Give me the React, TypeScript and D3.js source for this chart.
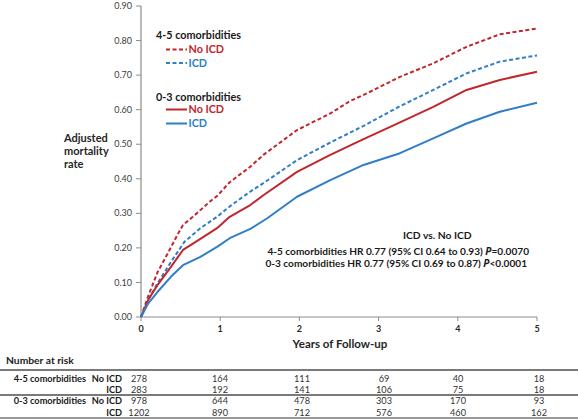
import React from "react";
import * as d3 from "d3";

const yTicks = [0, 0.1, 0.2, 0.3, 0.4, 0.5, 0.6, 0.7, 0.8, 0.9];
const xTicks = [0, 1, 2, 3, 4, 5];

// [years, adjusted mortality]
const noIcd45: [number, number][] = [
  [0, 0], [0.09, 0.06], [0.21, 0.13], [0.34, 0.185], [0.47, 0.242], [0.53, 0.266],
  [0.68, 0.295], [0.87, 0.334], [0.96, 0.35], [1.12, 0.39], [1.38, 0.435], [1.55, 0.47],
  [1.97, 0.541], [2.39, 0.589], [2.64, 0.625], [2.85, 0.647], [3.27, 0.695], [3.69, 0.734],
  [4.11, 0.782], [4.53, 0.818], [5.0, 0.835],
];
const icd45: [number, number][] = [
  [0, 0], [0.09, 0.049], [0.21, 0.098], [0.38, 0.16], [0.55, 0.218], [0.75, 0.257],
  [0.96, 0.29], [1.12, 0.32], [1.38, 0.363], [1.55, 0.388], [1.97, 0.454], [2.39, 0.505],
  [2.81, 0.553], [3.27, 0.61], [3.69, 0.657], [4.11, 0.705], [4.53, 0.739], [5.0, 0.757],
];
const noIcd03: [number, number][] = [
  [0, 0], [0.09, 0.049], [0.21, 0.093], [0.38, 0.146], [0.53, 0.194], [0.75, 0.226],
  [0.96, 0.257], [1.12, 0.29], [1.38, 0.324], [1.55, 0.353], [1.97, 0.42], [2.39, 0.469],
  [2.81, 0.515], [3.27, 0.563], [3.69, 0.608], [4.11, 0.657], [4.53, 0.686], [5.0, 0.71],
];
const icd03: [number, number][] = [
  [0, 0], [0.09, 0.039], [0.21, 0.073], [0.38, 0.117], [0.53, 0.15], [0.75, 0.174],
  [0.96, 0.203], [1.12, 0.228], [1.38, 0.255], [1.59, 0.285], [1.97, 0.348], [2.39, 0.396],
  [2.81, 0.44], [3.27, 0.474], [3.69, 0.517], [4.11, 0.56], [4.53, 0.594], [5.0, 0.62],
];

const riskGroups = ["4-5 comorbidities", "0-3 comorbidities"];
const riskArms = ["No ICD", "ICD"];
const risk45NoIcd = [278, 164, 111, 69, 40, 18];
const risk45Icd = [283, 192, 141, 106, 75, 18];
const risk03NoIcd = [978, 644, 478, 303, 170, 93];
const risk03Icd = [1202, 890, 712, 576, 460, 162];

const RED = "#C0272D";
const BLUE = "#2F7EC7";
const FONT = "Lato, 'Open Sans', sans-serif";

export default function App() {
  const W = 578, H = 419;
  const x = d3.scaleLinear().domain([0, 5]).range([141, 537]);
  const y = d3.scaleLinear().domain([0, 0.9]).range([317, 6]);
  const line = d3.line<[number, number]>().x((d) => x(d[0])).y((d) => y(d[1]));

  const series = [
    { data: noIcd45, color: RED, dash: "4,2.5" },
    { data: icd45, color: BLUE, dash: "4,2.5" },
    { data: noIcd03, color: RED, dash: undefined },
    { data: icd03, color: BLUE, dash: undefined },
  ];

  const colX = [139, 220, 302, 384, 458, 539];
  const rows = [
    { group: riskGroups[0], arm: riskArms[0], vals: risk45NoIcd, y: 378.5 },
    { group: "", arm: riskArms[1], vals: risk45Icd, y: 389.5 },
    { group: riskGroups[1], arm: riskArms[0], vals: risk03NoIcd, y: 401 },
    { group: "", arm: riskArms[1], vals: risk03Icd, y: 412.5 },
  ];

  const legend = [
    { title: "4-5 comorbidities", ty: 35, items: [
      { label: "No ICD", color: RED, dash: "4,2.5", y: 49.5 },
      { label: "ICD", color: BLUE, dash: "4,2.5", y: 63 },
    ] },
    { title: "0-3 comorbidities", ty: 97, items: [
      { label: "No ICD", color: RED, dash: undefined, y: 109.5 },
      { label: "ICD", color: BLUE, dash: undefined, y: 123.5 },
    ] },
  ];

  return (
    <svg width={W} height={H} style={{ position: "absolute", left: 0, top: 0, background: "#fff" }} fontFamily={FONT}>
      {/* axes */}
      <line x1={x(0)} x2={x(0)} y1={y(0)} y2={y(0.9)} stroke="#8c8c8c" strokeWidth={1.2} />
      <line x1={x(0)} x2={x(5)} y1={y(0)} y2={y(0)} stroke="#8c8c8c" strokeWidth={1.2} />
      {yTicks.map((t) => (
        <g key={t}>
          <line x1={x(0) - 5} x2={x(0)} y1={y(t)} y2={y(t)} stroke="#8c8c8c" strokeWidth={1} />
          <text x={x(0) - 9} y={y(t)} dy="0.35em" textAnchor="end" fontSize={9} fill="#404040">
            {d3.format(".2f")(t)}
          </text>
        </g>
      ))}
      {xTicks.map((t) => (
        <g key={t}>
          <line x1={x(t)} x2={x(t)} y1={y(0)} y2={y(0) + 4} stroke="#8c8c8c" strokeWidth={1} />
          <text x={x(t)} y={329} dy="0.35em" textAnchor="middle" fontSize={9} fontWeight="bold" fill="#262626">
            {t}
          </text>
        </g>
      ))}
      <text x={340} y={343.5} dy="0.35em" textAnchor="middle" fontSize={11.5} fontWeight="bold" fill="#262626">
        Years of Follow-up
      </text>
      <text x={64} fontSize={11} fontWeight="bold" fill="#262626">
        <tspan x={64} y={138} dy="0.35em">Adjusted</tspan>
        <tspan x={64} y={151} dy="0.35em">mortality</tspan>
        <tspan x={64} y={164.5} dy="0.35em">rate</tspan>
      </text>

      {/* curves */}
      {series.map((s, i) => (
        <path key={i} d={line(s.data) || ""} fill="none" stroke={s.color} strokeWidth={2}
          strokeDasharray={s.dash} strokeLinejoin="round" />
      ))}

      {/* legend */}
      {legend.map((g) => (
        <g key={g.title}>
          <text x={156} y={g.ty} dy="0.35em" fontSize={10.8} fontWeight="bold" fill="#1a1a1a">{g.title}</text>
          {g.items.map((it) => (
            <g key={it.label}>
              <line x1={166} x2={187} y1={it.y} y2={it.y} stroke={it.color} strokeWidth={2} strokeDasharray={it.dash} />
              <text x={188.5} y={it.y} dy="0.35em" fontSize={10.8} fontWeight="bold" fill={it.color}>{it.label}</text>
            </g>
          ))}
        </g>
      ))}

      {/* annotation */}
      <text x={403} y={235} dy="0.35em" fontSize={10.3} fontWeight="bold" fill="#1a1a1a">ICD vs. No ICD</text>
      <text x={529} y={251.5} dy="0.35em" textAnchor="end" fontSize={10.1} fontWeight="bold" fill="#1a1a1a">
        4-5 comorbidities HR 0.77 (95% CI 0.64 to 0.93) <tspan fontStyle="italic" fontFamily="'Open Sans', 'DejaVu Sans', sans-serif">P</tspan>=0.0070
      </text>
      <text x={527} y={263.8} dy="0.35em" textAnchor="end" fontSize={10.1} fontWeight="bold" fill="#1a1a1a">
        0-3 comorbidities HR 0.77 (95% CI 0.69 to 0.87) <tspan fontStyle="italic" fontFamily="'Open Sans', 'DejaVu Sans', sans-serif">P</tspan>&lt;0.0001
      </text>

      {/* number at risk table */}
      <text x={6} y={360} dy="0.35em" fontSize={10.3} fontWeight="bold" fill="#1a1a1a">Number at risk</text>
      <line x1={0} x2={W} y1={370} y2={370} stroke="#7a7a7a" strokeWidth={2} />
      <line x1={0} x2={W} y1={395} y2={395} stroke="#7a7a7a" strokeWidth={2} />
      <line x1={0} x2={W} y1={418} y2={418} stroke="#333" strokeWidth={1.2} />
      {rows.map((r, i) => (
        <g key={i}>
          {r.group && (
            <text x={86} y={r.y} dy="0.35em" textAnchor="end" fontSize={9.2} fontWeight="bold" fill="#1a1a1a">{r.group}</text>
          )}
          <text x={122} y={r.y} dy="0.35em" textAnchor="end" fontSize={9.2} fontWeight="bold" fill="#1a1a1a">{r.arm}</text>
          {r.vals.map((v, j) => (
            <text key={j} x={colX[j]} y={r.y} dy="0.35em" textAnchor="middle" fontSize={9.2} fill="#333">{v}</text>
          ))}
        </g>
      ))}
    </svg>
  );
}
